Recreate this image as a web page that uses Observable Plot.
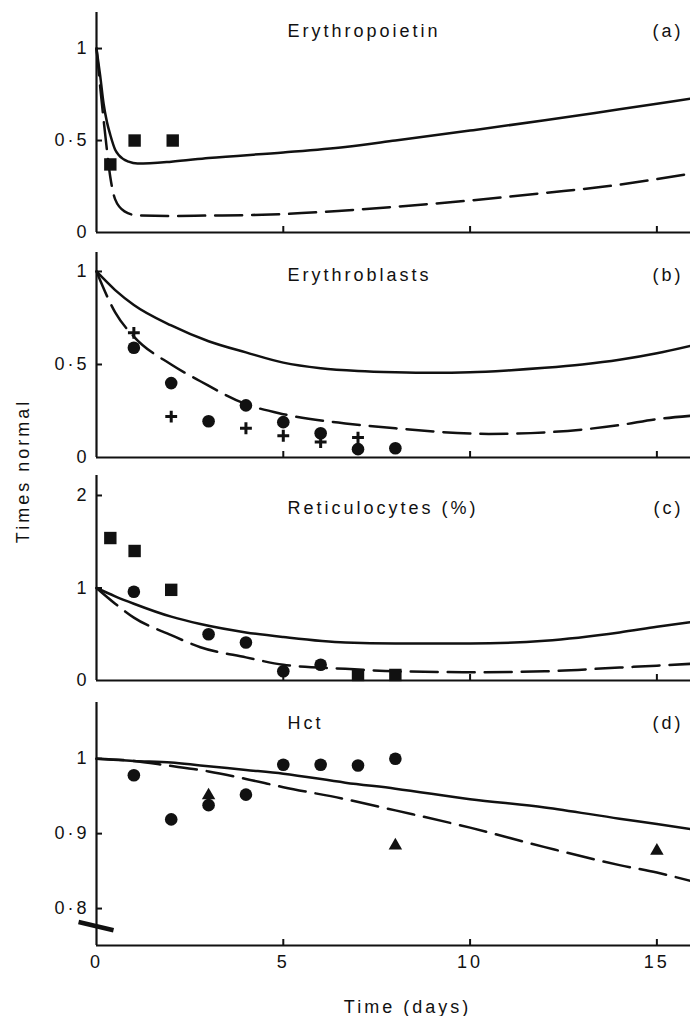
<!DOCTYPE html>
<html><head><meta charset="utf-8">
<script src="https://cdn.jsdelivr.net/npm/d3@7"></script>
<script src="https://cdn.jsdelivr.net/npm/@observablehq/plot@0.6"></script>
<style>
body{margin:0;background:#fff;}
#wrap{position:relative;width:690px;height:1016px;font-family:"Liberation Sans",Arial,sans-serif;font-size:18px;letter-spacing:3px;color:#111;}
.panel{position:absolute;left:0;}
#ylab{position:absolute;left:23px;top:471px;transform:translate(-50%,-50%) rotate(-90deg);white-space:nowrap;}
</style></head><body><div id="wrap"><div id="ylab">Times normal</div></div>
<script>
// ---- Data (time in days, value in "times normal") ----
const xTicks = [0, 5, 10, 15];

// (a) Erythropoietin
const epoSolid = [[0,1.0],[0.1,0.85],[0.19,0.70],[0.28,0.60],[0.37,0.53],[0.5,0.45],[0.6,0.42],[0.86,0.385],[1.1,0.375],[2,0.385],[3,0.405],[5,0.435],[6.66,0.465],[8,0.5],[10,0.554],[12,0.61],[14,0.67],[15,0.70],[15.9,0.727]];
const epoDashed = [[0,1.0],[0.12,0.75],[0.24,0.52],[0.37,0.30],[0.5,0.18],[0.75,0.115],[1.1,0.093],[2,0.09],[3,0.092],[5,0.1],[6.66,0.12],[8,0.14],[10,0.174],[12,0.215],[14,0.26],[15,0.29],[15.9,0.32]];
const epoSquares = [[0.37,0.37],[1.02,0.5],[2.04,0.5]];

// (b) Erythroblasts
const eblSolid = [[0,1],[0.5,0.90],[1,0.82],[2,0.71],[3,0.625],[4,0.565],[5,0.51],[6,0.48],[7,0.465],[8,0.458],[9,0.455],[10,0.458],[11,0.468],[12,0.482],[13,0.50],[14,0.525],[15,0.56],[15.9,0.60]];
const eblDashed = [[0,1],[0.5,0.78],[1,0.65],[2,0.50],[2.78,0.41],[4,0.287],[5,0.233],[6.66,0.183],[8,0.157],[10,0.129],[10.5,0.127],[12,0.135],[14,0.174],[15,0.206],[15.9,0.224]];
const eblCircles = [[1,0.59],[2,0.40],[3,0.195],[4,0.28],[5,0.19],[6,0.13],[7,0.045],[8,0.05]];
const eblCrosses = [[1,0.67],[2,0.22],[4,0.157],[5,0.117],[6,0.083],[7,0.107]];

// (c) Reticulocytes (%)
const retSolid = [[0,1],[0.5,0.91],[1,0.83],[2,0.69],[2.78,0.61],[4,0.52],[5,0.47],[6.66,0.41],[8,0.40],[9,0.40],[10,0.40],[12,0.43],[14,0.52],[15,0.58],[15.9,0.63]];
const retDashed = [[0,1],[0.5,0.83],[1,0.68],[2,0.49],[2.78,0.36],[4,0.25],[5,0.17],[6.66,0.126],[8,0.10],[10,0.09],[12,0.10],[14,0.14],[15,0.16],[15.9,0.18]];
const retSquares = [[0.37,1.54],[1.02,1.40],[2,0.98],[7,0.06],[8,0.06]];
const retCircles = [[1,0.96],[3,0.50],[4,0.41],[5,0.10],[6,0.17]];

// (d) Hct
const hctSolid = [[0,1.0],[1,0.997],[2,0.995],[2.78,0.991],[4,0.985],[5,0.98],[6.66,0.968],[8,0.96],[10,0.946],[12,0.935],[14,0.92],[15,0.913],[15.9,0.906]];
const hctDashed = [[0,1.0],[1,0.997],[1.89,0.991],[3,0.983],[4,0.973],[5,0.962],[6.66,0.946],[8,0.931],[10,0.908],[12,0.882],[14,0.858],[15,0.848],[15.9,0.837]];
const hctCircles = [[1,0.978],[2,0.919],[3,0.938],[4,0.952],[5,0.992],[6,0.992],[7,0.991],[8,1.0]];
const hctTriangles = [[3,0.951],[8,0.884],[15,0.877]];
const axisBreak = [{x1:-0.48, y1:0.782, x2:0.455, y2:0.771}];

// ---- Drawing ----
const W = 690, ML = 96, FONT = "Liberation Sans, Arial, sans-serif";
const fmt = d => String(d).replace(".", "\u00b7");
const wrap = document.getElementById("wrap");

function panel(cfg) {
  const plotH = cfg.height - cfg.mt - cfg.mb;
  const marks = [
    Plot.ruleX([0], {strokeWidth: 2.2}),
    Plot.ruleY([cfg.yDomain[0]], {strokeWidth: 2.2}),
    Plot.tickY(cfg.yTicks.filter(d => d !== cfg.yDomain[0]), {y: d => d, strokeWidth: 2, insetRight: (W - ML) - 6}),
    Plot.tickX(xTicks.filter(d => d > 0), {x: d => d, strokeWidth: 2, insetTop: plotH - 6}),
    Plot.axisY({ticks: cfg.yTicks, tickSize: 0, tickPadding: 7, tickFormat: fmt, fontSize: 18}),
    Plot.line(cfg.solid, {x: d => d[0], y: d => d[1], curve: "monotone-x", strokeWidth: 2.5}),
    Plot.line(cfg.dashed, {x: d => d[0], y: d => d[1], curve: "monotone-x", strokeWidth: 2.5, strokeDasharray: "27,10"}),
    ...cfg.points,
    Plot.text([cfg.title], {frameAnchor: "top-left", textAnchor: "start", lineAnchor: "bottom", dx: 287 - ML, dy: cfg.titleDy, fontSize: 18}),
    Plot.text([cfg.tag], {frameAnchor: "top-right", textAnchor: "end", lineAnchor: "bottom", dx: -7, dy: cfg.titleDy, fontSize: 18}),
    ...(cfg.extra || [])
  ];
  if (cfg.xLabels) marks.push(Plot.axisX({ticks: xTicks, tickSize: 0, tickPadding: 10, fontSize: 18}));
  const chart = Plot.plot({
    width: W, height: cfg.height,
    marginLeft: ML, marginRight: 0, marginTop: cfg.mt, marginBottom: cfg.mb,
    x: {domain: [0, 15.9], axis: null},
    y: {domain: cfg.yDomain, axis: null},
    style: {fontFamily: FONT, fontSize: "18px", letterSpacing: "3px", overflow: "visible", color: "#111", background: "transparent"},
    marks
  });
  chart.classList.add("panel");
  chart.style.top = cfg.top + "px";
  chart.style.position = "absolute";
  wrap.appendChild(chart);
}

const sq = (data) => Plot.dot(data, {x: d => d[0], y: d => d[1], symbol: "square", r: 7, fill: "#111"});
const ci = (data) => Plot.dot(data, {x: d => d[0], y: d => d[1], symbol: "circle", r: 6.3, fill: "#111"});

panel({top: 0, height: 240, mt: 12, mb: 8, yDomain: [0, 1.196], yTicks: [0, 0.5, 1],
  solid: epoSolid, dashed: epoDashed, points: [sq(epoSquares)],
  title: "Erythropoietin", tag: "(a)", titleDy: 24});

panel({top: 240, height: 224, mt: 12, mb: 7, yDomain: [0, 1.102], yTicks: [0, 0.5, 1],
  solid: eblSolid, dashed: eblDashed,
  points: [ci(eblCircles), Plot.dot(eblCrosses, {x: d => d[0], y: d => d[1], symbol: "plus", r: 3.9, stroke: "#111", strokeWidth: 3})],
  title: "Erythroblasts", tag: "(b)", titleDy: 28});

panel({top: 464, height: 226, mt: 11, mb: 10, yDomain: [0, 2.216], yTicks: [0, 1, 2],
  solid: retSolid, dashed: retDashed, points: [sq(retSquares), ci(retCircles)],
  title: "Reticulocytes (%)", tag: "(c)", titleDy: 38});

panel({top: 690, height: 326, mt: 12, mb: 71, yDomain: [0.7507, 1.075], yTicks: [0.8, 0.9, 1],
  solid: hctSolid, dashed: hctDashed,
  points: [ci(hctCircles), Plot.dot(hctTriangles, {x: d => d[0], y: d => d[1], symbol: "triangle", r: 5, fill: "#111"})],
  title: "Hct", tag: "(d)", titleDy: 26, xLabels: true,
  extra: [
    Plot.link(axisBreak, {x1: "x1", y1: "y1", x2: "x2", y2: "y2", strokeWidth: 4.5}),
    Plot.text(["Time (days)"], {frameAnchor: "bottom", textAnchor: "middle", lineAnchor: "bottom", dx: 14, dy: 67, fontSize: 18})
  ]});
</script>
</body></html>
